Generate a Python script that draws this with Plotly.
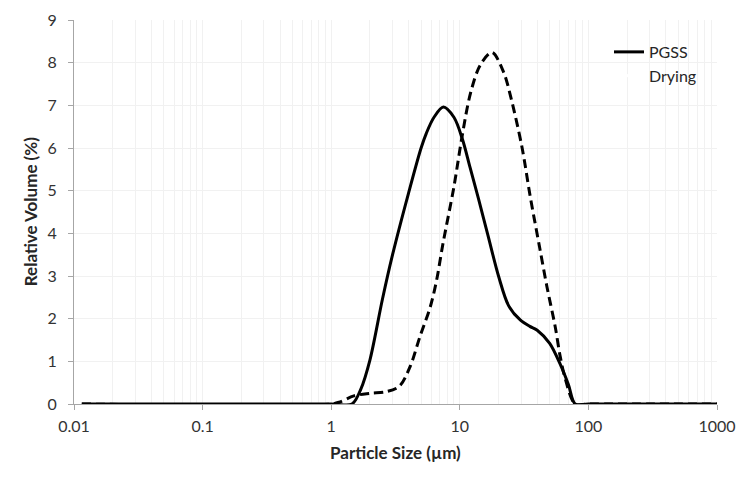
import plotly.graph_objs as go

# PGSS (solid line)
pgss_size = [0.0115, 1.0, 1.45, 1.7, 2.0, 2.5, 3.0, 4.0, 5.0, 5.5, 6.3, 7.45, 9.0, 10.5,
             12.0, 14.0, 16.5, 20.0, 24.0, 29.5, 35.0, 40.0, 50.0, 60.0, 70.0, 79.0, 100, 1000]
pgss_vol = [0, 0, 0, 0.35, 1.03, 2.45, 3.5, 4.95, 6.0, 6.35, 6.72, 6.96, 6.72, 6.2,
            5.55, 4.8, 3.97, 3.0, 2.3, 1.97, 1.82, 1.73, 1.42, 0.95, 0.45, 0, 0, 0]

# Drying (dashed line)
dry_size = [0.0115, 1.0, 1.17, 1.5, 2.0, 2.7, 3.4, 4.1, 4.9, 5.9, 6.6, 7.4, 9.0,
            10.4, 12.1, 14.4, 17.8, 21.9, 24.7, 30.4, 35.3, 41.7, 47.6, 55.2, 60.4,
            66.0, 79.0, 100, 1000]
dry_vol = [0, 0, 0.05, 0.19, 0.25, 0.29, 0.42, 0.87, 1.58, 2.28, 2.90, 3.76, 5.09,
           6.26, 7.28, 7.94, 8.24, 7.78, 7.24, 6.03, 4.86, 3.68, 2.75, 1.81, 1.11,
           0.60, 0, 0, 0]

x_ticks = [0.01, 0.1, 1, 10, 100, 1000]
x_tick_labels = ["0.01", "0.1", "1", "10", "100", "1000"]

font_name = "Lato"
grid_col = "#f1f1f1"
axis_col = "#a6a6a6"
title_col = "#262626"

fig = go.Figure()

# dashed curve, kept out of the legend
fig.add_trace(go.Scatter(
    x=dry_size, y=dry_vol, mode="lines", line_shape="spline",
    line=dict(color="black", width=3, dash="9px,5px", smoothing=0.9),
    showlegend=False, name="Drying"
))
fig.add_trace(go.Scatter(
    x=pgss_size, y=pgss_vol, mode="lines", line_shape="spline",
    line=dict(color="black", width=3, smoothing=0.9),
    name="PGSS"
))
# legend entry without visible sample (as in the original)
fig.add_trace(go.Scatter(
    x=[None], y=[None], mode="lines", line=dict(color="white", width=3),
    name="Drying"
))

# white box behind legend hides the grid there
fig.add_shape(type="rect", xref="paper", yref="paper", x0=0.776, x1=1.0, y0=0.797, y1=0.992,
              fillcolor="white", line=dict(width=0), layer="below")

# axis titles as annotations so the margins stay fixed
fig.add_annotation(text="<b>Particle Size (µm)</b>", xref="paper", yref="paper",
                   x=0.5, y=-0.125, xanchor="center", yanchor="middle", showarrow=False,
                   font=dict(family=font_name, size=17, color=title_col))
fig.add_annotation(text="<b>Relative Volume (%)</b>", xref="paper", yref="paper",
                   x=-0.068, y=0.5, xanchor="center", yanchor="middle", showarrow=False,
                   textangle=-90, font=dict(family=font_name, size=17, color=title_col))

# page body adds an 8px offset, margins account for it
fig.update_layout(
    width=754, height=487,
    margin=dict(l=66, r=45, t=12, b=91),
    paper_bgcolor="white", plot_bgcolor="white",
    font=dict(family=font_name, size=16, color="#333333"),
    legend=dict(x=0.832, y=0.961, xanchor="left", yanchor="top",
                bgcolor="rgba(0,0,0,0)", font=dict(size=16, color=title_col),
                tracegroupgap=0, itemwidth=30),
)

fig.update_xaxes(
    type="log", range=[-2, 3], automargin=False,
    tickmode="array", tickvals=x_ticks, ticktext=x_tick_labels,
    ticks="outside", ticklen=5, tickcolor=axis_col, ticklabelstandoff=3,
    showline=True, linecolor=axis_col, linewidth=1,
    showgrid=True, gridcolor=grid_col,
    minor=dict(dtick="D1", showgrid=True, gridcolor=grid_col, ticks=""),
    zeroline=False,
)
fig.update_yaxes(
    range=[0, 9], dtick=1, automargin=False,
    ticks="outside", ticklen=5, tickcolor=axis_col, ticklabelstandoff=8,
    showline=True, linecolor=axis_col, linewidth=1,
    showgrid=True, gridcolor=grid_col, zeroline=False,
)

fig.write_html("out.html")
